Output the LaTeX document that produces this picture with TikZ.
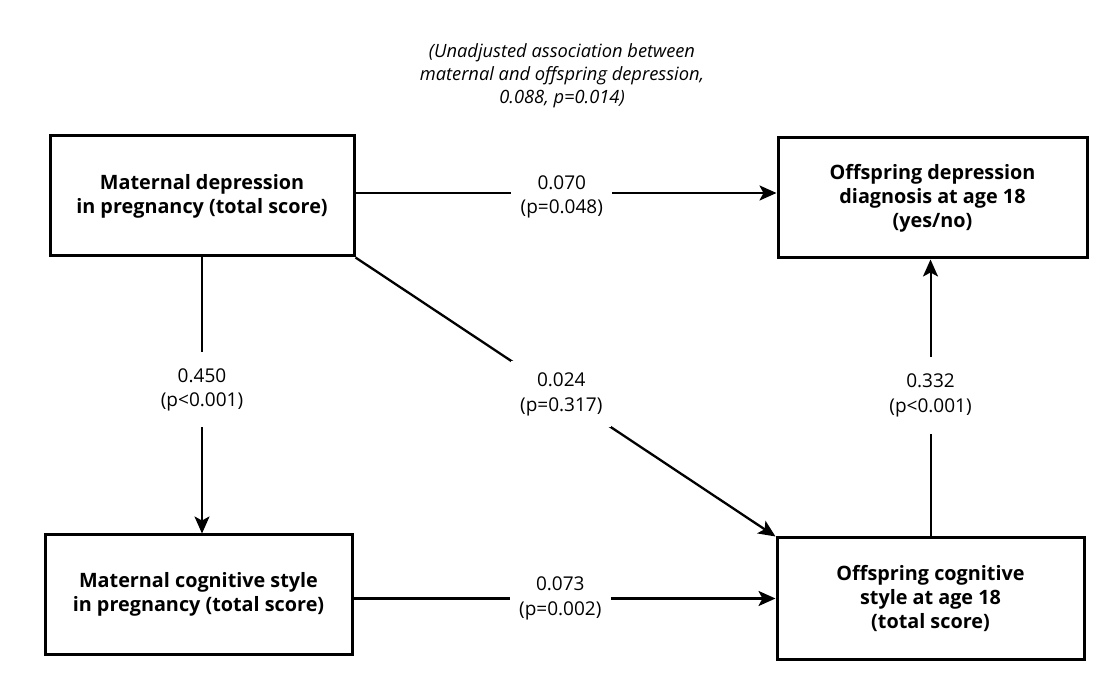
\documentclass[tikz,border=0pt]{standalone}
\usepackage{fontspec}
\setmainfont{Open Sans}
\usetikzlibrary{arrows.meta}
\begin{document}
\begin{tikzpicture}[x=1pt,y=1pt,
  box/.style={draw,line width=3pt,inner sep=0pt,align=center,
    font=\fontsize{19.8}{24}\selectfont\bfseries},
  conn/.style={line width=2.6pt,-{Stealth[length=17pt,width=15pt,inset=4pt]}},
  thin conn/.style={conn,line width=2pt},
  lab/.style={fill=white,inner sep=0pt,align=center,
    font=\fontsize{19}{24.5}\selectfont}]
\useasboundingbox (0,0) rectangle (1111,691);
\fill[white] (0,0) rectangle (1111,691);
\node[box,minimum width=304,minimum height=120] (md) at (202,495) {Maternal depression\\in pregnancy (total score)};
\node[box,minimum width=309,minimum height=120] (od) at (932.5,493) {Offspring depression\\diagnosis at age 18\\(yes/no)};
\node[box,minimum width=307,minimum height=119] (mc) at (198.5,96.5) {Maternal cognitive style\\in pregnancy (total score)};
\node[box,minimum width=307,minimum height=121] (oc) at (930.5,92.5) {Offspring cognitive\\style at age 18\\(total score)};
\node[align=center,font=\fontsize{18.3}{23}\selectfont\itshape] (note) at (562,615) {(Unadjusted association between\\maternal and offspring depression,\\0.088, p=0.014)};
\draw[conn] ([yshift=3pt]md.east) -- ([yshift=3pt]md.east -| od.west)
  node[lab,pos=0.49,yshift=-4pt,minimum width=101,minimum height=50] (l1) {0.070\\(p=0.048)};
\draw[thin conn] (md.south) -- (md.south |- mc.north)
  node[lab,pos=0.48,minimum width=90,minimum height=75] (l2) {0.450\\(p<0.001)};
\draw[conn,line width=2.3pt] (md.south east) -- (oc.north west)
  node[lab,pos=0.49,minimum width=100,minimum height=66] (l3) {0.024\\(p=0.317)};
\draw[thin conn] (oc.north) -- (oc.north |- od.south)
  node[lab,pos=0.51,minimum width=90,minimum height=77] (l4) {0.332\\(p<0.001)};
\draw[conn] ([yshift=-4pt]mc.east) -- ([yshift=-4pt]mc.east -| oc.west)
  node[lab,pos=0.49,minimum width=101,minimum height=56] (l5) {0.073\\(p=0.002)};
\end{tikzpicture}
\end{document}
